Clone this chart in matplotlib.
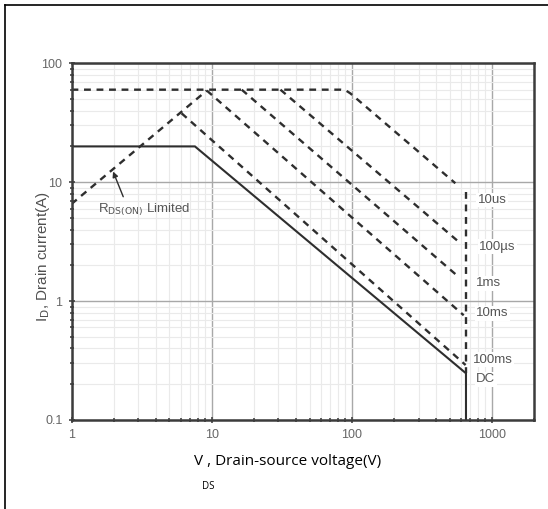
import numpy as np
import matplotlib
matplotlib.use("Agg")
import matplotlib.pyplot as plt
from matplotlib.ticker import FixedLocator, FixedFormatter, LogLocator, NullFormatter

# --- data (V in volts, I in amps) ---
x_ticks = [1, 10, 100, 1000]
x_tick_labels = ["1", "10", "100", "1000"]
y_ticks = [0.1, 1, 10, 100]
y_tick_labels = ["0.1", "1", "10", "100"]

rds_v = [1, 9.24]
rds_i = [6.56, 59]

pulse_names = ["10us", "100\u00b5s", "1ms", "10ms", "100ms"]
pulse_v = [
    [1, 83, 91, 97.5, 549],
    [31, 579],
    [16.4, 579],
    [9.24, 630],
    [6.1, 650],
]
pulse_i = [
    [60, 60, 59, 56, 9.8],
    [60, 3.16],
    [60, 1.6],
    [59, 0.76],
    [38, 0.29],
]

vmax_v = [654, 654]
vmax_i = [8.3, 0.247]

dc_v = [1, 7.6, 654, 654]
dc_i = [20, 20, 0.247, 0.1]

curve_labels = pulse_names + ["DC"]
label_v = [793, 816, 773, 773, 731, 773]
label_i = [7.08, 2.87, 1.41, 0.79, 0.32, 0.221]

LINE = "#2e2e2e"
TXT = "#555555"

fig = plt.figure(figsize=(5.48, 5.09), dpi=100)
ax = fig.add_axes([71.5 / 548, 1 - 420 / 509, (534 - 71.5) / 548, (420 - 63.3) / 509])
ax.set_xscale("log")
ax.set_yscale("log")
ax.set_xlim(1, 2000)
ax.set_ylim(0.1, 100)

ax.xaxis.set_major_locator(FixedLocator(x_ticks))
ax.xaxis.set_major_formatter(FixedFormatter(x_tick_labels))
ax.yaxis.set_major_locator(FixedLocator(y_ticks))
ax.yaxis.set_major_formatter(FixedFormatter(y_tick_labels))
for a in (ax.xaxis, ax.yaxis):
    a.set_minor_locator(LogLocator(base=10, subs=np.arange(2, 10), numticks=20))
    a.set_minor_formatter(NullFormatter())

ax.grid(True, which="major", color="#a8a8a8", lw=1.0)
ax.grid(True, which="minor", color="#eaeaea", lw=0.8)
ax.set_axisbelow(True)
for sp in ax.spines.values():
    sp.set_color("#3c3c3c")
    sp.set_linewidth(1.8)
ax.tick_params(which="major", direction="inout", length=5, width=1.2, color="#444444",
               labelsize=9, labelcolor="#666666", pad=4)
ax.tick_params(which="minor", direction="inout", length=3, width=1.2, color="#444444")
for lab in ax.get_xticklabels() + ax.get_yticklabels():
    lab.set_family("Liberation Sans")

dash = (2.9, 2.4)
ax.plot(rds_v, rds_i, color=LINE, lw=1.7, dashes=dash)
for v, i in zip(pulse_v, pulse_i):
    ax.plot(v, i, color=LINE, lw=1.7, dashes=dash)
ax.plot(vmax_v, vmax_i, color=LINE, lw=1.7, dashes=dash)
ax.plot(dc_v, dc_i, color=LINE, lw=1.5, solid_joinstyle="miter")

for name, v, i in zip(curve_labels, label_v, label_i):
    ax.text(v, i, name, fontsize=9.5, color=TXT, family="Liberation Sans",
            ha="left", va="center",
            bbox=dict(facecolor="white", edgecolor="none", pad=1))

ax.text(1.545, 5.84, r"R$_{\mathrm{DS(ON)}}$ Limited", fontsize=9.5, color=TXT,
        family="Liberation Sans", ha="left", va="center")
ax.annotate("", xy=(1.98, 12.3), xytext=(2.34, 7.55),
            arrowprops=dict(arrowstyle="-|>", color=LINE, lw=1.0,
                            mutation_scale=8, shrinkA=0, shrinkB=0))

fig.text(43.3 / 548, 1 - 256 / 509, r"I$_{\mathrm{D}}$, Drain current(A)", rotation=90,
         fontsize=11, color="#505050", family="Liberation Sans", ha="center", va="center")
fig.text(194 / 548, 1 - 465 / 509, "V , Drain-source voltage(V)", fontsize=11,
         color="black", family="Open Sans", ha="left", va="baseline")
fig.text(208 / 548, 1 - 486.5 / 509, "DS", fontsize=7, color="black",
         family="Open Sans", ha="center", va="center")

# outer frame (top and left edges only are visible in the reference)
fig.add_artist(plt.Line2D([4.5 / 548, 4.5 / 548], [0, 1 - 5 / 509], color="black", lw=1.2))
fig.add_artist(plt.Line2D([4.5 / 548, 1], [1 - 5 / 509, 1 - 5 / 509], color="black", lw=1.2))

fig.savefig("out.png", dpi=100)
